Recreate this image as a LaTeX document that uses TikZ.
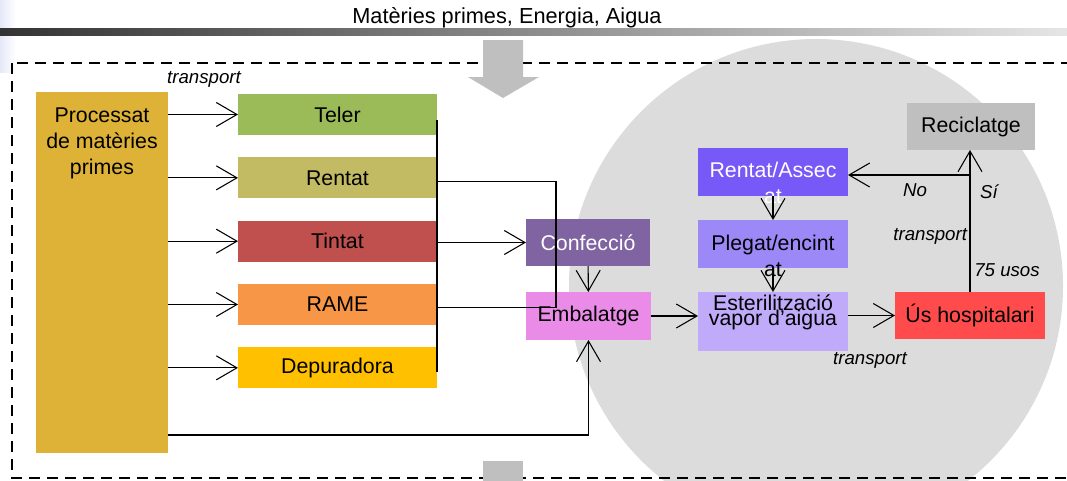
\documentclass[tikz,border=0pt]{standalone}
\usepackage{fontspec}
\setmainfont{Liberation Sans}
\usepackage{tikz}
\usetikzlibrary{arrows.meta,calc,positioning}
\definecolor{Goldbox}{HTML}{DDB236}
\definecolor{TelerGreen}{HTML}{9BBB59}
\definecolor{RentatOlive}{HTML}{C2BB63}
\definecolor{TintatRed}{HTML}{C0504D}
\definecolor{RameOrange}{HTML}{F79646}
\definecolor{DepurYellow}{HTML}{FFC000}
\definecolor{ConfPurple}{HTML}{8064A2}
\definecolor{EmbPink}{HTML}{EA8BE8}
\definecolor{RentasBlue}{HTML}{7759F7}
\definecolor{PlegLilac}{HTML}{9D88F8}
\definecolor{SterLilac}{HTML}{C0AAFA}
\definecolor{UsRed}{HTML}{FF4B4B}
\definecolor{RecicGrey}{HTML}{BFBFBF}
\definecolor{CircGrey}{HTML}{DCDCDC}
\definecolor{Lavend}{HTML}{E6E8F8}
\newcommand{\boxfont}{\fontsize{16}{19.5}\selectfont}
\newcommand{\sterfont}{\fontsize{16}{11.25}\selectfont
    \lineskiplimit=-50pt\relax}
\newcommand{\notefont}{\fontsize{14}{16}\selectfont\itshape}
\tikzstyle{box}  =[rectangle, inner sep=0pt, outer sep=0pt, font=\boxfont]
\tikzstyle{small}=[minimum width=149.25pt, minimum height=30.75pt]
\tikzstyle{stage}=[minimum width=112.5pt, minimum height=36pt]
\tikzstyle{note} =[inner sep=0pt, font=\notefont]
\tikzstyle{wire} =[line width=0.8pt]
\tikzstyle{edge} =[line width=0.8pt, -{Straight Barb[length=15.5pt,width=18pt]}]

\begin{document}
\begin{tikzpicture}[x=0.75pt, y=-0.75pt, every node/.style={inner sep=0pt,
        outer sep=0pt}, on grid, node distance=47.5pt]
    \useasboundingbox (0,0) rectangle (1067,480);
    % fons
    \shade[left color=Lavend, right color=white] (0,0) rectangle (16,72);
    \shade[left color=black!80, middle color=black!55, right color=black!10]
        (0,28) rectangle (1067,35);
    \fill[CircGrey] (816,286) circle [radius=185.25pt];
    \draw[line width=2pt, dash pattern=on 8.25pt off 5.25pt] (12,63)
        rectangle (1090,478);
    \fill[RecicGrey] (483,40) -- (523,40) -- (523,77) -- (539,77) -- (503,98)
        -- (468,77) -- (483,77) -- cycle;
    \fill[RecicGrey] (483,461) rectangle (523,495);
    \node[font=\fontsize{16.3}{19}\selectfont] (head) at (507,18)
        {Matèries primes, Energia, Aigua};
    % processos
    \node[box, fill=Goldbox, minimum width=99pt, minimum height=270.75pt]
        (proc) at (102,272.5) {};
    \node[box, align=center] (proctxt) at (102,143)
        {Processat\\de matèries\\primes};
    \node[box, small, fill=TelerGreen] (teler) at (337.5,114.5) {Teler};
    \node[box, small, fill=RentatOlive, below=of teler] (rentat) {Rentat};
    \node[box, small, fill=TintatRed, below=of rentat] (tintat) {Tintat};
    \node[box, small, fill=RameOrange, below=of tintat] (rame) {RAME};
    \node[box, small, fill=DepurYellow, below=of rame] (depur) {Depuradora};
    \node[box, fill=ConfPurple, text=white, minimum width=93pt,
        minimum height=35.25pt] (conf) at (588,242.5) {Confecció};
    \node[box, fill=EmbPink, minimum width=93.75pt, minimum height=36pt]
        (emb) at (588.5,316) {Embalatge};
    \node[box, stage, fill=RentasBlue] (rentas) at (773,172) {};
    \node[box, align=center, text=white] (rentastxt) at (773,182.5)
        {Rentat/Assec\\at};
    \node[box, stage, fill=PlegLilac] (pleg) at (773,244) {};
    \node[box, align=center] (plegtxt) at (773,256) {Plegat/encint\\at};
    \node[box, stage, fill=SterLilac, minimum height=44.25pt] (ster)
        at (773,321.5) {};
    \node[box, align=center, font=\sterfont] (stertxt) at (773,312)
        {Esterilització\\vapor d'aigua};
    \node[box, stage, fill=UsRed, minimum height=35.25pt] (us) at (970,315.5)
        {Ús hospitalari};
    \node[box, fill=RecicGrey, minimum width=96pt, minimum height=35.25pt]
        (recic) at (971,126.5) {Reciclatge};
    % etiquetes
    \node[note] (trtop) at (204,79) {transport};
    \node[note] (no) at (915,190) {No};
    \node[note] (si) at (989,192) {Sí};
    \node[note, anchor=east] (trmid) at (967,236) {transport};
    \node[note] (usos) at (1007,270) {75 usos};
    \node[note] (trbot) at (870,360) {transport};
    % connexions
    \foreach \n in {teler,rentat,tintat,rame,depur}
        \draw[edge] (proc.east |- \n.west) -- (\n.west);
    \draw[wire] ($(teler.east)+(0,-4pt)$) -- ($(depur.east)+(0,-3pt)$);
    \draw[wire] ($(rentat.east)+(0,-2.5pt)$) -|
        ($(rame.east -| emb.west)+(22.5pt,-2pt)$) -- ($(rame.east)+(0,-2pt)$);
    \draw[edge] (tintat.east |- conf.west) -- (conf.west);
    \draw[edge] (conf) -- (emb);
    \draw[edge] ($(proc.south east)+(0,13.5pt)$) -| (emb.south);
    \draw[edge] (emb.east) -- (emb.east -| ster.west);
    \draw[edge] (rentas) -- (pleg);
    \draw[edge] (pleg) -- (ster);
    \draw[edge] (ster.east |- us.west) -- (us.west);
    \draw[edge] (us.north) -- (us.north |- recic.south);
    \draw[edge] ($(rentas.east -| us.north)+(0,-2.25pt)$) --
        ($(rentas.east)+(0,-2.25pt)$);
\end{tikzpicture}
\end{document}
